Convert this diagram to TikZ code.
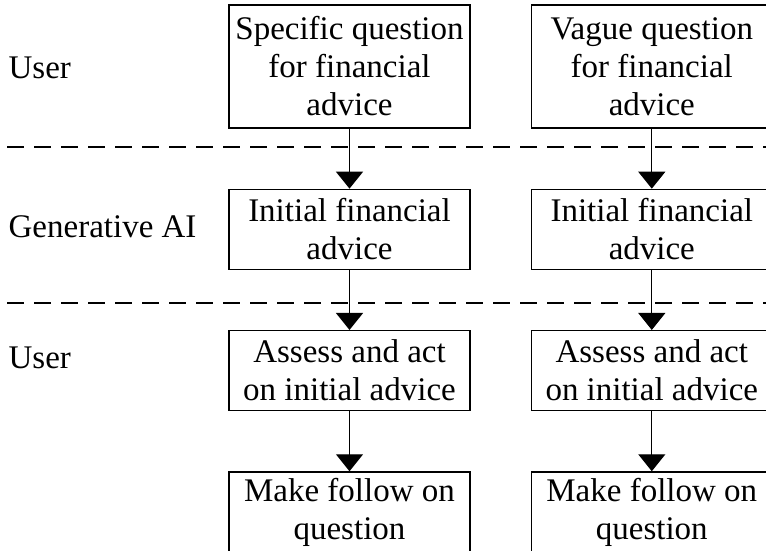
\documentclass[tikz,border=0pt]{standalone}
\usepackage{fontspec}
\setmainfont{Liberation Serif}
\usepackage{tikz}
\usetikzlibrary{arrows.meta, positioning}

\begin{document}
\begin{tikzpicture}[x=1pt, y=-1pt, >={Triangle[width=27pt, length=17pt]}, line width=1.3pt,
    node distance = 60pt,
    stepbox/.style = {draw, align=center, minimum width = 241pt, minimum height = 80pt, inner sep=3pt,
        font=\fontsize{33}{38}\selectfont},
    lanelabel/.style = {anchor=base west, inner sep=0pt, font=\fontsize{33}{38}\selectfont},
    laneline/.style = {dash pattern=on 17pt off 10pt}]
    \useasboundingbox (0,0) rectangle (766,550);
    \clip (0,0) rectangle (766,550);

    \node[stepbox, minimum height = 123pt] (specific-question) at (349.5,66.5) {Specific question\\for financial\\advice};
    \node[stepbox, minimum height = 123pt, right = of specific-question] (vague-question) {Vague question\\for financial\\advice};
    \node[stepbox, below = of specific-question] (initial-advice-specific) {Initial financial\\advice};
    \node[stepbox, below = of vague-question] (initial-advice-vague) {Initial financial\\advice};
    \node[stepbox, below = of initial-advice-specific] (assess-specific) {Assess and act\\on initial advice};
    \node[stepbox, below = of initial-advice-vague] (assess-vague) {Assess and act\\on initial advice};
    \node[stepbox, below = of assess-specific] (follow-on-specific) {Make follow on\\question};
    \node[stepbox, below = of assess-vague] (follow-on-vague) {Make follow on\\question};

    \node[lanelabel] (user-lane) at (8,78) {User};
    \node[lanelabel] (ai-lane) at (8,237) {Generative AI};
    \node[lanelabel] (user-lane-2) at (8,368) {User};

    \draw[laneline] (7,147) -- (766,147);
    \draw[laneline] (7,303) -- (766,303);

    \draw[->] (specific-question) -- (initial-advice-specific);
    \draw[->] (initial-advice-specific) -- (assess-specific);
    \draw[->] (assess-specific) -- (follow-on-specific);
    \draw[->] (vague-question) -- (initial-advice-vague);
    \draw[->] (initial-advice-vague) -- (assess-vague);
    \draw[->] (assess-vague) -- (follow-on-vague);

\end{tikzpicture}
\end{document}
